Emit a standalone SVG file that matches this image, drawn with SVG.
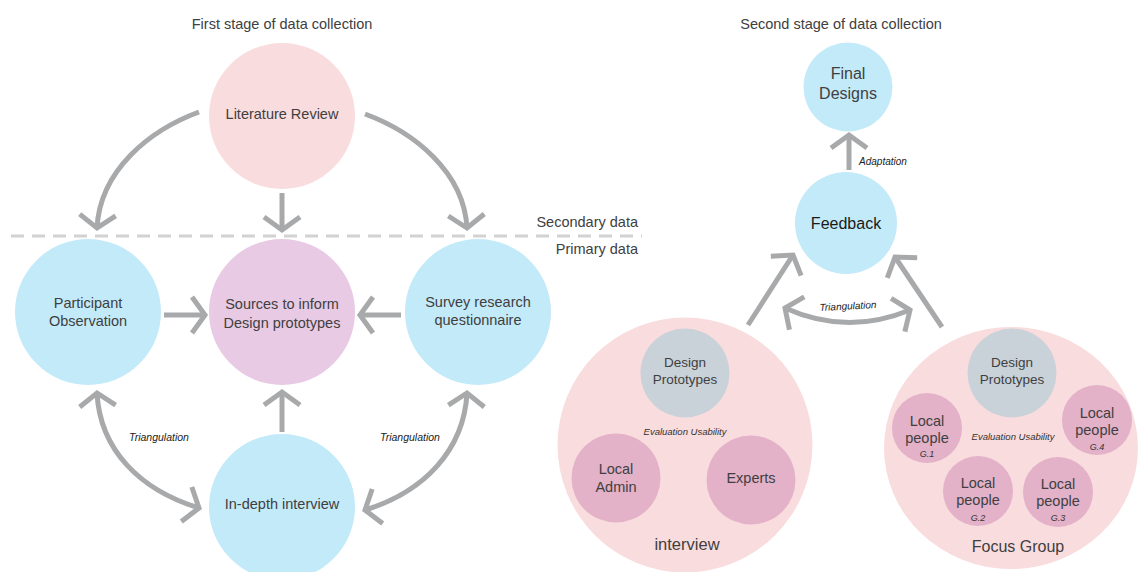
<svg xmlns="http://www.w3.org/2000/svg" width="1138" height="572" viewBox="0 0 1138 572">
<style>
text{font-family:"Liberation Sans",Arial,sans-serif;fill:#404040;text-anchor:middle;dominant-baseline:central}
.t{font-size:14.5px}
.n{font-size:14.5px}
.s{font-size:13.5px}
.b{font-size:16px}
.i{font-style:italic;font-size:10.5px;fill:#222}
.g{font-style:italic;font-size:9px;fill:#333}
.blue{fill:#c3eaf9}
.pink{fill:#f9dcdd}
.purple{fill:#e8cae4}
.grey{fill:#c9d1d9}
.dpink{fill:#e3b1c8}
.arr{fill:none;stroke:#a8a9ab;stroke-width:5}
.end{marker-end:url(#ch)}
.both{marker-start:url(#ch);marker-end:url(#ch)}
</style>
<defs>
<marker id="ch" viewBox="-20 -25 30 50" refX="0" refY="0" markerWidth="30" markerHeight="50" markerUnits="userSpaceOnUse" orient="auto-start-reverse">
<path d="M-13,-18 L0,0 L-13,18" fill="none" stroke="#a8a9ab" stroke-width="5"/>
</marker>
</defs>
<rect width="1138" height="572" fill="#fff"/>
<text class="t" x="282" y="24">First stage of data collection</text>
<text class="t" x="841" y="24">Second stage of data collection</text>
<path d="M11,236 L642,236" stroke="#d2d2d2" stroke-width="3" stroke-dasharray="13 8" fill="none"/>
<text class="t" x="638" y="222" style="text-anchor:end">Secondary data</text>
<text class="t" x="638" y="249" style="text-anchor:end">Primary data</text>

<g id="literature-review"><circle class="pink" cx="282" cy="116" r="73"/><text class="n" x="282" y="114">Literature Review</text></g>
<g id="participant-observation"><circle class="blue" cx="88" cy="312" r="73"/><text class="n" x="88" y="303">Participant</text><text class="n" x="88" y="321">Observation</text></g>
<g id="sources"><circle class="purple" cx="282" cy="312" r="73"/><text class="n" x="282" y="304">Sources to inform</text><text class="n" x="282" y="323">Design prototypes</text></g>
<g id="survey"><circle class="blue" cx="478" cy="312" r="73"/><text class="n" x="478" y="302">Survey research</text><text class="n" x="478" y="320">questionnaire</text></g>
<g id="in-depth-interview"><circle class="blue" cx="282" cy="507" r="73"/><text class="n" x="282" y="504">In-depth interview</text></g>

<g id="final-designs"><circle class="blue" cx="848" cy="87" r="44.5"/><text class="b" x="848" y="73">Final</text><text class="b" x="848" y="93">Designs</text></g>
<g id="feedback"><circle class="blue" cx="846" cy="223" r="51"/><text class="b" x="846" y="223" style="fill:#1a1a1a">Feedback</text></g>

<g id="interview">
<circle class="pink" cx="685" cy="445" r="127.5"/>
<circle class="grey" cx="685" cy="373" r="44.5"/><text class="s" x="685" y="362">Design</text><text class="s" x="685" y="379">Prototypes</text>
<text class="g" x="685" y="431" style="font-size:9.5px">Evaluation Usability</text>
<circle class="dpink" cx="616" cy="478" r="44.5"/><text class="n" x="616" y="469">Local</text><text class="n" x="616" y="487">Admin</text>
<circle class="dpink" cx="751" cy="480" r="44.5"/><text class="n" x="751" y="478">Experts</text>
<text class="b" x="687" y="544" style="font-size:16.5px">interview</text>
</g>

<g id="focus-group">
<ellipse class="pink" cx="1011" cy="448" rx="127" ry="121"/>
<circle class="grey" cx="1012" cy="373" r="44.5"/><text class="s" x="1012" y="362">Design</text><text class="s" x="1012" y="379">Prototypes</text>
<text class="g" x="1013" y="436" style="font-size:9.5px">Evaluation Usability</text>
<circle class="dpink" cx="927" cy="428" r="35"/><text class="n" x="927" y="421">Local</text><text class="n" x="927" y="438">people</text><text class="g" x="927" y="454">G.1</text>
<circle class="dpink" cx="1097" cy="420" r="35"/><text class="n" x="1097" y="413">Local</text><text class="n" x="1097" y="430">people</text><text class="g" x="1097" y="447">G.4</text>
<circle class="dpink" cx="978" cy="491" r="35"/><text class="n" x="978" y="483">Local</text><text class="n" x="978" y="500">people</text><text class="g" x="978" y="518">G.2</text>
<circle class="dpink" cx="1058" cy="492" r="35"/><text class="n" x="1058" y="484">Local</text><text class="n" x="1058" y="501">people</text><text class="g" x="1058" y="518">G.3</text>
<text class="b" x="1018" y="546">Focus Group</text>
</g>

<g id="connectors">
<path class="arr end" d="M199,112 C150,130 100,170 97,228"/>
<path class="arr end" d="M365,114 C414,132 464,172 467,228"/>
<path class="arr end" d="M282,193 L282,230"/>
<path class="arr end" d="M164,315 L205,315"/>
<path class="arr end" d="M401,315 L360,315"/>
<path class="arr end" d="M282,432 L282,392"/>
<path class="arr both" d="M97,393 C100,450 140,490 199,508"/>
<path class="arr both" d="M467,393 C464,450 424,492 365,510"/>
<path class="arr end" d="M849,170 L849,135"/>
<path class="arr end" d="M748,325 L793,255"/>
<path class="arr end" d="M942,327 L895,257"/>
<path class="arr both" d="M785,308 Q847,336 910,310"/>
<text class="i" x="159" y="437">Triangulation</text>
<text class="i" x="410" y="437">Triangulation</text>
<text class="i" x="883" y="161" style="font-size:10px">Adaptation</text>
<text class="i" x="848" y="306" style="font-size:10px" transform="rotate(-3 848 306)">Triangulation</text>
</g>
</svg>
